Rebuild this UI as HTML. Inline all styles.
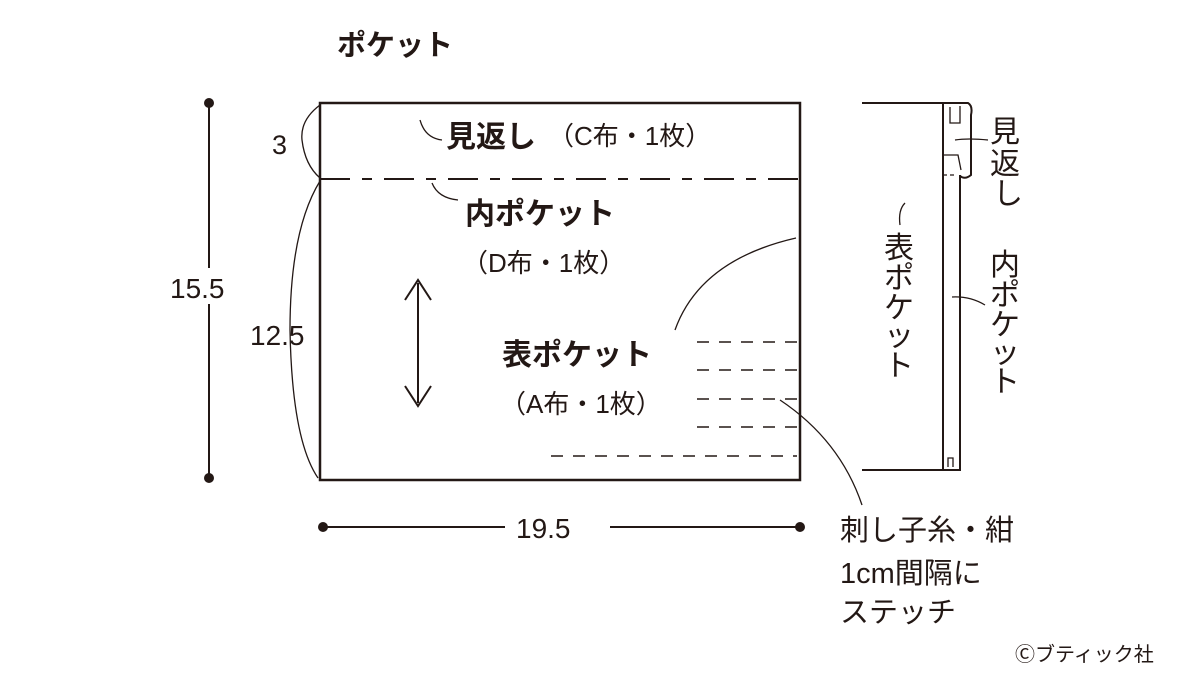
<!DOCTYPE html>
<html><head><meta charset="utf-8"><style>
body{margin:0;background:#fff}
svg{display:block}
text{font-family:"Liberation Sans","Noto Sans CJK JP",sans-serif;fill:#231815}
</style></head><body>
<svg width="1200" height="675" viewBox="0 0 1200 675" xmlns="http://www.w3.org/2000/svg">
<g stroke="#231815" fill="none" stroke-width="2">
<rect x="320" y="103" width="480" height="377" stroke-width="2.5"/>
<line x1="320" y1="179" x2="800" y2="179" stroke-dasharray="30,12,10,12"/>
<line x1="209" y1="103" x2="209" y2="478"/>
<line x1="323" y1="527" x2="505" y2="527"/>
<line x1="610" y1="527" x2="800" y2="527"/>
<g stroke-dasharray="12,10" stroke-width="1.5">
<line x1="697" y1="342" x2="797" y2="342"/>
<line x1="697" y1="370" x2="797" y2="370"/>
<line x1="697" y1="399" x2="797" y2="399"/>
<line x1="697" y1="427" x2="797" y2="427"/>
<line x1="551" y1="456" x2="797" y2="456"/>
</g>
<line x1="418" y1="283" x2="418" y2="403"/>
<polyline points="405,300 418,280 431,300"/>
<polyline points="405,386 418,406 431,386"/>
<g stroke-width="1.3">
<path d="M320,105 Q300,120 302,140 Q305,165 320,178"/>
<path d="M320,181 Q290,230 290,330 Q292,440 318,478"/>
<path d="M420,120 Q425,138 442,140"/>
<path d="M432,183 Q438,198 458,200"/>
<path d="M796,238 Q700,260 675,330"/>
<path d="M780,400 Q840,440 862,505"/>
<path d="M905,203 Q898,210 900,225"/>
<path d="M955,140 Q968,138 988,140"/>
<path d="M952,297 Q970,296 985,305"/>
</g>
<line x1="862" y1="103" x2="945" y2="103"/>
<line x1="862" y1="470" x2="945" y2="470"/>
<path d="M943,103 L943,470 L960,470 L960,175" />
<path d="M945,103 L968,103 Q973,106 971,115 L971,175 Q965,180 960,176"/>
<path d="M950,107 L950,123 L960,123 L960,106" stroke-width="1.3"/>
<path d="M943,155 L958,155 L961,170" stroke-width="1.3"/>
<line x1="943" y1="175" x2="957" y2="175" stroke-dasharray="4,3" stroke-width="1.3"/>
<path d="M948,467 L948,458 L953,458 L953,467" stroke-width="1.3"/>
</g>
<rect x="168" y="268" width="78" height="36" fill="#fff"/>
<circle cx="209" cy="103" r="5" fill="#231815"/>
<circle cx="209" cy="478" r="5" fill="#231815"/>
<circle cx="323" cy="527" r="5" fill="#231815"/>
<circle cx="800" cy="527" r="5" fill="#231815"/>
<text x="337" y="55" font-size="29" font-weight="bold">ポケット</text>
<text x="272" y="154" font-size="27">3</text>
<text x="170" y="298" font-size="28">15.5</text>
<text x="250" y="345" font-size="28">12.5</text>
<text x="516" y="538" font-size="28">19.5</text>
<text x="446" y="147" font-size="30" font-weight="bold">見返し</text>
<text x="548" y="145" font-size="26">（C布・1枚）</text>
<text x="465" y="224" font-size="30" font-weight="bold">内ポケット</text>
<text x="462" y="272" font-size="26">（D布・1枚）</text>
<text x="502" y="365" font-size="30" font-weight="bold">表ポケット</text>
<text x="500" y="413" font-size="26">（A布・1枚）</text>
<text x="840" y="540" font-size="29">刺し子糸・紺</text>
<text x="840" y="583" font-size="29">1cm間隔に</text>
<text x="840" y="622" font-size="29">ステッチ</text>
<text x="1015" y="661" font-size="20">Ⓒブティック社</text>
<g font-size="30">
<text x="990" y="142">見</text><text x="990" y="174">返</text><text x="993" y="204">し</text>
<text x="990" y="275">内</text><text x="990" y="305">ポ</text><text x="990" y="335">ケ</text><text x="990" y="363">ッ</text><text x="990" y="392">ト</text>
<text x="884" y="258">表</text><text x="884" y="288">ポ</text><text x="884" y="318">ケ</text><text x="884" y="346">ッ</text><text x="884" y="376">ト</text>
</g>
</svg>
</body></html>
